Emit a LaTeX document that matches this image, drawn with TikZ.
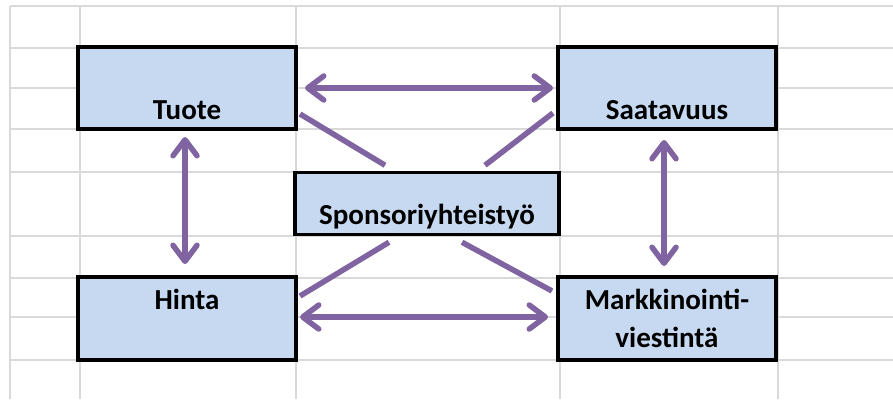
\documentclass[tikz,border=0pt]{standalone}
\usepackage{fontspec}
\setmainfont{Carlito}
\usepackage{xcolor}
\usepackage{tikz}
\usetikzlibrary{arrows.meta,positioning,calc}

\definecolor{boxblue}{HTML}{C6D9F1}
\definecolor{linkpurple}{HTML}{8064A2}
\definecolor{gridgray}{HTML}{D9D9D9}

\begin{document}
\begin{tikzpicture}[
  x=1pt, y=-1pt,
  mixbox/.style={draw, line width=3.5pt, fill=boxblue, rectangle, minimum width=218pt, inner sep=0pt, outer sep=0pt, align=center, font=\fontsize{29}{38}\selectfont\bfseries},
  arr/.style={{Straight Barb[length=16pt,width=24pt,round]}-{Straight Barb[length=16pt,width=24pt,round]}, line width=5.5pt, draw=linkpurple},
  link/.style={line width=5.5pt, draw=linkpurple},
  grid/.style={draw=gridgray, line width=2pt}
]
\useasboundingbox (0,0) rectangle (893,399);

% sheet cells behind the chart
\foreach \y in {6,48,88,129,172,236,278,317,360}
  \draw[grid] (10,\y) -- (893,\y);
\foreach \x in {10,80,296,560,778}
  \draw[grid] (\x,6) -- (\x,399);

% the four corner boxes and the one in the middle
\node[mixbox, text height=72pt, text depth=10pt] (tuote) at (187,88) {Tuote};
\node[mixbox, text height=72pt, text depth=10pt, right=262pt of tuote] (saat) {Saatavuus};
\node[mixbox, text height=32pt, text depth=51pt, below=148pt of tuote] (hinta) {Hinta};
\node[mixbox, minimum height=83pt, below=148pt of saat] (markk) {Markkinointi-\\viestintä};
\node[mixbox, minimum width=264pt, text height=52pt, text depth=10pt] (spons) at ($(tuote)!0.5!(markk)$) {Sponsoriyhteistyö};

% two-way arrows round the edge
\draw[arr, shorten <=9pt, shorten >=5pt] (tuote) -- (saat);
\draw[arr, shorten <=4pt, shorten >=10pt] (hinta.east |- 0,317) -- (markk.west |- 0,317);
\draw[arr, shorten <=8pt, shorten >=13pt] ([xshift=-2pt]tuote.south) -- ([xshift=-2pt]hinta.north);
\draw[arr, shorten <=11pt, shorten >=11pt] ([xshift=-3pt]saat.south) -- ([xshift=-3pt]markk.north);

% plain lines into the middle box
\draw[link] ([shift={(4,-15)}]tuote.south east) -- ([shift={(-42,-7)}]spons.north);
\draw[link] ([shift={(58,-7)}]spons.north) -- ([shift={(-5,-16)}]saat.south west);
\draw[link] ([shift={(-38,8)}]spons.south) -- ([shift={(4,19)}]hinta.north east);
\draw[link] ([shift={(35,8)}]spons.south) -- ([shift={(-6,14)}]markk.north west);

\end{tikzpicture}
\end{document}
